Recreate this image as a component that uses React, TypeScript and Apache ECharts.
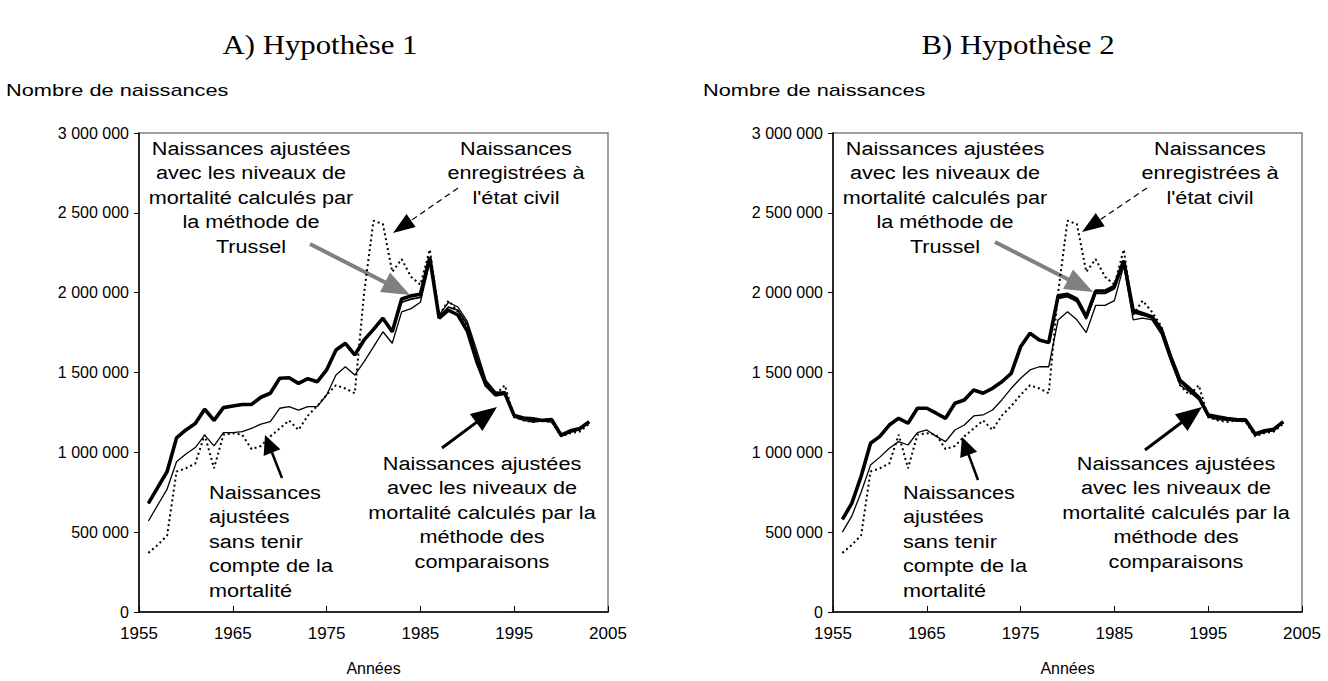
import React, { useEffect, useRef } from "react";
import * as echarts from "echarts";

const years = [
  1956, 1957, 1958, 1959, 1960, 1961, 1962, 1963, 1964, 1965, 1966, 1967,
  1968, 1969, 1970, 1971, 1972, 1973, 1974, 1975, 1976, 1977, 1978, 1979,
  1980, 1981, 1982, 1983, 1984, 1985, 1986, 1987, 1988, 1989, 1990, 1991,
  1992, 1993, 1994, 1995, 1996, 1997, 1998, 1999, 2000, 2001, 2002, 2003,
];

// Naissances enregistrées à l'état civil (same in both panels)
const registered = [
  370000, 420000, 480000, 880000, 900000, 930000, 1110000, 900000, 1110000, 1120000, 1110000, 1020000,
  1040000, 1100000, 1150000, 1200000, 1140000, 1230000, 1290000, 1360000, 1420000, 1400000, 1370000, 2000000,
  2450000, 2430000, 2130000, 2210000, 2100000, 2050000, 2270000, 1860000, 1950000, 1880000, 1790000, 1600000,
  1420000, 1360000, 1420000, 1220000, 1200000, 1190000, 1200000, 1190000, 1100000, 1120000, 1130000, 1180000,
];

// A) Hypothèse 1
const aNoMortality = [
  570000, 670000, 770000, 941000, 990000, 1030000, 1108000, 1040000, 1124000, 1124000, 1130000, 1150000,
  1177000, 1192000, 1276000, 1286000, 1265000, 1286000, 1286000, 1359000, 1484000, 1536000, 1484000, 1568000,
  1660000, 1755000, 1683000, 1880000, 1900000, 1940000, 2190000, 1860000, 1940000, 1910000, 1820000, 1640000,
  1450000, 1380000, 1370000, 1220000, 1200000, 1190000, 1195000, 1190000, 1100000, 1125000, 1140000, 1185000,
];
const aTrussel = [
  680000, 780000, 880000, 1090000, 1140000, 1180000, 1270000, 1200000, 1280000, 1290000, 1300000, 1300000,
  1345000, 1370000, 1464000, 1467000, 1432000, 1461000, 1442000, 1516000, 1641000, 1683000, 1610000, 1704000,
  1770000, 1840000, 1755000, 1960000, 1980000, 1990000, 2220000, 1840000, 1890000, 1860000, 1760000, 1570000,
  1420000, 1360000, 1370000, 1230000, 1215000, 1210000, 1200000, 1205000, 1108000, 1135000, 1150000, 1192000,
];
const aComparisons = [
  680000, 780000, 880000, 1090000, 1140000, 1180000, 1270000, 1200000, 1280000, 1290000, 1300000, 1300000,
  1345000, 1370000, 1464000, 1467000, 1432000, 1461000, 1442000, 1516000, 1641000, 1683000, 1610000, 1704000,
  1770000, 1840000, 1755000, 1940000, 1960000, 1970000, 2210000, 1850000, 1910000, 1890000, 1800000, 1610000,
  1440000, 1370000, 1380000, 1225000, 1210000, 1200000, 1200000, 1200000, 1105000, 1130000, 1145000, 1190000,
];

// B) Hypothèse 2
const bNoMortality = [
  500000, 600000, 750000, 920000, 970000, 1025000, 1067000, 1046000, 1124000, 1140000, 1100000, 1067000,
  1140000, 1171000, 1228000, 1234000, 1265000, 1328000, 1401000, 1464000, 1516000, 1536000, 1536000, 1829000,
  1881000, 1830000, 1750000, 1920000, 1920000, 1950000, 2170000, 1830000, 1840000, 1830000, 1740000, 1570000,
  1420000, 1380000, 1330000, 1220000, 1205000, 1200000, 1195000, 1195000, 1105000, 1125000, 1135000, 1185000,
];
const bTrussel = [
  580000, 680000, 850000, 1057000, 1100000, 1171000, 1213000, 1182000, 1276000, 1276000, 1245000, 1213000,
  1307000, 1328000, 1390000, 1370000, 1401000, 1442000, 1495000, 1661000, 1746000, 1704000, 1687000, 1980000,
  1990000, 1960000, 1850000, 2010000, 2010000, 2040000, 2200000, 1890000, 1870000, 1850000, 1770000, 1600000,
  1450000, 1400000, 1345000, 1234000, 1222000, 1212000, 1205000, 1203000, 1115000, 1135000, 1145000, 1192000,
];
const bComparisons = [
  580000, 680000, 850000, 1057000, 1100000, 1171000, 1213000, 1182000, 1276000, 1276000, 1245000, 1213000,
  1307000, 1328000, 1390000, 1370000, 1401000, 1442000, 1495000, 1661000, 1746000, 1704000, 1687000, 1965000,
  1975000, 1945000, 1835000, 1995000, 1995000, 2025000, 2190000, 1875000, 1860000, 1840000, 1760000, 1590000,
  1440000, 1390000, 1340000, 1228000, 1215000, 1206000, 1200000, 1198000, 1110000, 1130000, 1140000, 1188000,
];

const xTicks = { min: 1955, max: 2005, interval: 10 };
const yTicks = { min: 0, max: 3000000, interval: 500000 };

const SANS = '"Liberation Sans", Arial, Helvetica, sans-serif';
const SERIF = '"Liberation Serif", "Times New Roman", serif';
const SX = 1.14;

const fmtY = (v: number) => String(v).replace(/\B(?=(\d{3})+(?!\d))/g, " ");
const fmtX = (v: number) => String(v);
const pairs = (vals: number[]) => years.map((y, i) => [y, vals[i]]);

function arrow(
  x1: number, y1: number, x2: number, y2: number,
  o: { color: string; width: number; dash?: number[]; headLen: number; headW: number }
) {
  const dx = x2 - x1, dy = y2 - y1;
  const L = Math.hypot(dx, dy);
  const ux = dx / L, uy = dy / L;
  const bx = x2 - ux * o.headLen, by = y2 - uy * o.headLen;
  const px = (-uy * o.headW) / 2, py = (ux * o.headW) / 2;
  return [
    {
      type: "line",
      shape: { x1, y1, x2: bx + ux * 2, y2: by + uy * 2 },
      style: { stroke: o.color, lineWidth: o.width, lineDash: o.dash || null },
    },
    {
      type: "polygon",
      shape: { points: [[x2, y2], [bx + px, by + py], [bx - px, by - py]] },
      style: { fill: o.color },
    },
  ];
}

function txt(x: number, y: number, text: string, align: string, size = 19, family = SANS, lh = 24.5, sx = SX) {
  return {
    type: "text",
    x,
    y,
    scaleX: sx,
    style: {
      text,
      fill: "#000",
      font: `${size}px ${family}`,
      textAlign: align,
      textVerticalAlign: "top",
      lineHeight: lh,
    },
  };
}

function panelAnnotations(dx: number, arrows: any) {
  return [
    txt(251 + dx, 136, "Naissances ajustées\navec les niveaux de\nmortalité calculés par\nla méthode de\nTrussel", "center"),
    txt(516 + dx, 136, "Naissances\nenregistrées à\nl'état civil", "center"),
    txt(209 + dx, 480, "Naissances\najustées\nsans tenir\ncompte de la\nmortalité", "left"),
    txt(482 + dx, 451, "Naissances ajustées\navec les niveaux de\nmortalité calculés par la\nméthode des\ncomparaisons", "center"),
    ...arrow(arrows.t[0], arrows.t[1], arrows.t[2], arrows.t[3], { color: "#808080", width: 4, headLen: 28, headW: 22 }),
    ...arrow(arrows.r[0], arrows.r[1], arrows.r[2], arrows.r[3], { color: "#000", width: 1.2, dash: [6, 4], headLen: 22, headW: 16 }),
    ...arrow(arrows.n[0], arrows.n[1], arrows.n[2], arrows.n[3], { color: "#000", width: 2.5, headLen: 19, headW: 18 }),
    ...arrow(arrows.c[0], arrows.c[1], arrows.c[2], arrows.c[3], { color: "#000", width: 3, headLen: 26, headW: 21 }),
  ];
}

export default function App() {
  const ref = useRef<HTMLDivElement>(null);

  useEffect(() => {
    if (!ref.current) return;
    const chart = echarts.init(ref.current, undefined, { renderer: "svg" });

    const grids = [
      { left: 139, top: 133, width: 469, height: 479 },
      { left: 833, top: 133, width: 469, height: 479 },
    ].map((g) => ({ ...g, show: true, borderColor: "#808080", borderWidth: 1.5, backgroundColor: "transparent" }));

    const xAxes = [0, 1].map((i) => ({
      type: "value",
      gridIndex: i,
      ...xTicks,
      name: "Années",
      nameLocation: "middle",
      nameGap: 48,
      nameTextStyle: { color: "#000", fontSize: 16, fontFamily: SANS },
      axisLine: { show: true, onZero: false, lineStyle: { color: "#000", width: 1.5 } },
      axisTick: { show: true, inside: true, length: 6, lineStyle: { color: "#000", width: 1 } },
      axisLabel: { color: "#000", fontSize: 17, fontFamily: SANS, margin: 13, formatter: fmtX },
      splitLine: { show: false },
    }));

    const yAxes = [0, 1].map((i) => ({
      type: "value",
      gridIndex: i,
      ...yTicks,
      axisLine: { show: true, onZero: false, lineStyle: { color: "#000", width: 1.5 } },
      axisTick: { show: true, length: 5, lineStyle: { color: "#000", width: 1 } },
      axisLabel: { color: "#000", fontSize: 16, fontFamily: SANS, margin: 10, formatter: fmtY },
      splitLine: { show: false },
    }));

    const mk = (name: string, vals: number[], idx: number, ls: any, z: number) => ({
      name,
      type: "line",
      xAxisIndex: idx,
      yAxisIndex: idx,
      data: pairs(vals),
      showSymbol: false,
      symbol: "none",
      lineStyle: { color: "#000", ...ls },
      z,
    });

    const series: any[] = [];
    [
      [aNoMortality, aComparisons, aTrussel],
      [bNoMortality, bComparisons, bTrussel],
    ].forEach(([nm, cp, tr], i) => {
      series.push(mk("Naissances ajustées sans tenir compte de la mortalité", nm, i, { width: 1.3 }, 2));
      series.push(mk("Naissances ajustées (méthode des comparaisons)", cp, i, { width: 1.8 }, 3));
      series.push(mk("Naissances ajustées (méthode de Trussel)", tr, i, { width: 3.6 }, 4));
      series.push(mk("Naissances enregistrées à l'état civil", registered, i, { width: 2, type: [2, 3] }, 5));
    });

    const graphic: any[] = [
      txt(320, 30, "A) Hypothèse 1", "center", 27, SERIF, 30),
      txt(1018, 30, "B) Hypothèse 2", "center", 27, SERIF, 30),
      txt(6, 80, "Nombre de naissances", "left", 17, SANS, 20, 1.28),
      txt(703, 80, "Nombre de naissances", "left", 17, SANS, 20, 1.28),
      ...panelAnnotations(0, {
        t: [310, 244, 410, 295],
        r: [458, 188, 393, 233],
        n: [282, 478, 265, 435],
        c: [442, 448, 497, 407],
      }),
      ...panelAnnotations(694, {
        t: [995, 242, 1093, 292],
        r: [1147, 188, 1082, 232],
        n: [978, 480, 962, 437],
        c: [1145, 450, 1202, 407],
      }),
    ];

    chart.setOption({
      animation: false,
      backgroundColor: "#fff",
      grid: grids,
      xAxis: xAxes,
      yAxis: yAxes,
      series,
      graphic,
    });

    return () => chart.dispose();
  }, []);

  return <div ref={ref} style={{ position: "absolute", left: 0, top: 0, width: 1328, height: 681 }} />;
}
